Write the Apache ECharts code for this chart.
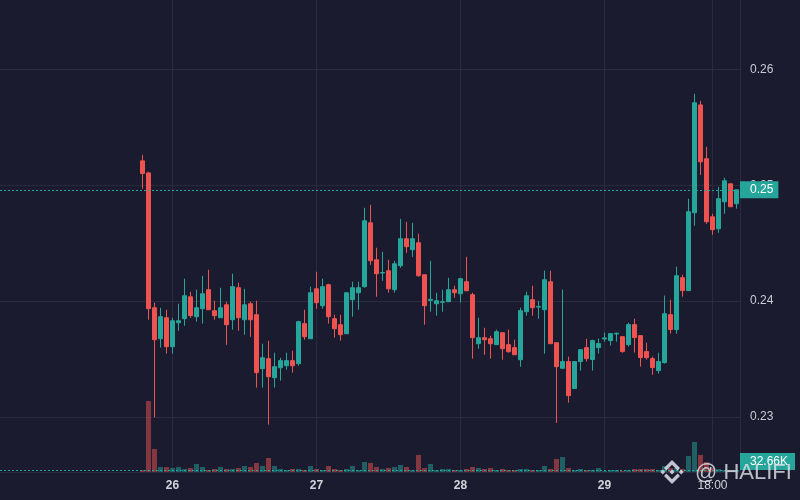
<!DOCTYPE html>
<html><head><meta charset="utf-8">
<script src="https://cdn.jsdelivr.net/npm/echarts@6/dist/echarts.min.js"></script>
<style>html,body{margin:0;padding:0;background:#1a1b2e}#c{width:800px;height:500px}</style>
</head><body><div id="c"></div>
<script>
// hourly candles, first candle = 25th 19:00 (hours counted from 25th 00:00)
const startHour = 19;
const opens = [0.25211,0.25107,0.23943,0.23676,0.23857,0.23607,0.23814,0.23849,0.24038,0.23866,
0.23935,0.24099,0.23918,0.23857,0.23969,0.23840,0.24116,0.23840,0.23978,0.23883,
0.23418,0.23504,0.23340,0.23426,0.23443,0.23487,0.23461,0.23806,0.23676,0.24107,
0.23961,0.24142,0.23849,0.23797,0.23719,0.24013,0.24073,0.24125,0.24676,0.24357,
0.24243,0.24263,0.24099,0.24306,0.24539,0.24444,0.24504,0.24228,0.24007,0.23978,
0.23990,0.23995,0.24099,0.24064,0.24168,0.24056,0.23633,0.23685,0.23676,0.23625,
0.23728,0.23625,0.23599,0.23495,0.23909,0.24013,0.23949,0.23926,0.24168,0.23642,
0.23421,0.23479,0.23246,0.23479,0.23599,0.23496,0.23599,0.23674,0.23660,0.23717,
0.23694,0.23625,0.23798,0.23703,0.23565,0.23504,0.23401,0.23470,0.23884,0.23755,
0.24203,0.24091,0.24763,0.25694,0.25229,0.24728,0.24625,0.24858,0.25013,0.24841];
const closes = [0.25102,0.23935,0.23668,0.23866,0.23607,0.23831,0.23831,0.24047,0.23875,0.23943,
0.24064,0.23926,0.23875,0.23943,0.23797,0.24125,0.23857,0.23969,0.23840,0.23383,
0.23512,0.23349,0.23435,0.23487,0.23487,0.23443,0.23823,0.23693,0.24073,0.23987,
0.24125,0.23866,0.23763,0.23711,0.24073,0.24116,0.24116,0.24694,0.24349,0.24237,
0.24248,0.24107,0.24323,0.24539,0.24470,0.24539,0.24220,0.23961,0.24016,0.24004,
0.23995,0.24099,0.24073,0.24194,0.24090,0.23685,0.23685,0.23668,0.23633,0.23737,
0.23590,0.23564,0.23538,0.23918,0.24047,0.23944,0.23955,0.24185,0.23633,0.23435,
0.23479,0.23185,0.23479,0.23582,0.23504,0.23660,0.23634,0.23683,0.23720,0.23723,
0.23565,0.23798,0.23686,0.23513,0.23513,0.23427,0.23479,0.23892,0.23755,0.24220,
0.24091,0.24772,0.25712,0.25203,0.24685,0.24617,0.24884,0.25039,0.24815,0.24961];
const lows = [0.24970,0.23840,0.22998,0.23599,0.23547,0.23547,0.23745,0.23788,0.23857,0.23823,
0.23806,0.23926,0.23840,0.23857,0.23624,0.23754,0.23745,0.23711,0.23693,0.23254,
0.23254,0.22935,0.23254,0.23314,0.23409,0.23383,0.23443,0.23668,0.23676,0.23935,
0.23935,0.23806,0.23685,0.23659,0.23719,0.23866,0.23926,0.24116,0.24314,0.24038,
0.24176,0.24073,0.24073,0.24288,0.24418,0.24383,0.24211,0.23797,0.23909,0.23875,
0.23909,0.23995,0.24030,0.23987,0.24090,0.23504,0.23590,0.23538,0.23504,0.23625,
0.23495,0.23556,0.23538,0.23435,0.23875,0.23875,0.23849,0.23547,0.23633,0.22950,
0.23421,0.23125,0.23246,0.23401,0.23479,0.23401,0.23548,0.23651,0.23617,0.23651,
0.23556,0.23608,0.23556,0.23436,0.23496,0.23366,0.23375,0.23462,0.23720,0.23720,
0.24039,0.24091,0.24651,0.25090,0.24668,0.24573,0.24590,0.24754,0.24815,0.24798];
const highs = [0.25263,0.25116,0.23987,0.23943,0.23926,0.23857,0.23978,0.24194,0.24081,0.24099,
0.24219,0.24271,0.24004,0.24116,0.23995,0.24237,0.24159,0.24107,0.23995,0.24004,
0.23633,0.23659,0.23556,0.23512,0.23556,0.23573,0.23831,0.23926,0.24125,0.24254,
0.24194,0.24150,0.23883,0.23883,0.24073,0.24168,0.24168,0.24806,0.24832,0.24461,
0.24426,0.24357,0.24349,0.24711,0.24685,0.24676,0.24582,0.24228,0.24349,0.24073,
0.24099,0.24202,0.24133,0.24202,0.24383,0.24073,0.23857,0.23771,0.23702,0.23754,
0.23728,0.23754,0.23668,0.23944,0.24082,0.24133,0.24004,0.24263,0.24263,0.23642,
0.24099,0.23522,0.23479,0.23582,0.23677,0.23668,0.23677,0.23729,0.23720,0.23729,
0.23694,0.23815,0.23849,0.23703,0.23642,0.23522,0.23556,0.24048,0.24013,0.24298,
0.24229,0.24884,0.25789,0.25728,0.25332,0.24754,0.24987,0.25065,0.25013,0.24961];
const volumes = [33000,1159000,376000,82000,80000,65000,81000,49000,66000,131000,
82000,33000,49000,82000,49000,50000,65000,98000,82000,147000,
98000,229000,98000,49000,33000,49000,50000,33000,98000,49000,
33000,98000,49000,33000,49000,98000,33000,163000,147000,82000,
49000,65000,82000,114000,82000,33000,278000,65000,131000,33000,
49000,49000,33000,33000,49000,82000,65000,49000,65000,33000,
49000,33000,33000,49000,49000,33000,33000,98000,49000,212000,
245000,65000,33000,49000,33000,33000,65000,16000,33000,33000,
16000,33000,49000,49000,49000,49000,33000,98000,65000,65000,
49000,261000,490000,278000,163000,65000,49000,33000,33000,32660];
const priceTicks = [0.23, 0.24, 0.25, 0.26];
const timeTicks = [24, 48, 72, 96, 114];
const timeTickLabels = ['26', '27', '28', '29', '18:00'];

const up = '#26a69a', down = '#ef5350';
const gridColor = '#2a2b3e';
const hours = opens.map((_, i) => startHour + i);
const candleData = opens.map((o, i) => [hours[i], o, closes[i], lows[i], highs[i]]);
const volData = volumes.map((v, i) => ({
  value: [hours[i], v],
  itemStyle: { color: closes[i] >= opens[i] ? 'rgba(38,166,154,0.5)' : 'rgba(239,83,80,0.5)' }
}));
const lastClose = closes[closes.length - 1];
const lastVol = volumes[volumes.length - 1];
const lastColor = closes[closes.length - 1] >= opens[opens.length - 1] ? up : down;

const xMin = -4.75, xMax = 118.5833;
const chart = echarts.init(document.getElementById('c'));
chart.setOption({
  backgroundColor: '#1a1b2e',
  animation: false,
  textStyle: { fontFamily: 'Arial, Liberation Sans, sans-serif' },
  grid: [
    { left: 0, right: 60, top: 0, bottom: 28 },
    { left: 0, right: 60, top: 372, bottom: 28 }
  ],
  xAxis: [
    {
      type: 'value', gridIndex: 0, min: xMin, max: xMax,
      axisLine: { show: true, onZero: false, lineStyle: { color: gridColor } },
      axisTick: { show: false, customValues: timeTicks },
      axisLabel: {
        customValues: timeTicks, margin: 8,
        formatter: function (v) {
          let k = 0;
          for (let j = 0; j < timeTicks.length; j++) if (Math.abs(timeTicks[j] - v) < 0.01) k = j;
          const t = timeTickLabels[k];
          return t.indexOf(':') >= 0 ? '{n|' + t + '}' : '{b|' + t + '}';
        },
        rich: {
          b: { fontWeight: 'bold', fontSize: 12, color: '#d1d4dc', fontFamily: 'Arial, Liberation Sans, sans-serif' },
          n: { fontSize: 12, color: '#d1d4dc', fontFamily: 'Arial, Liberation Sans, sans-serif' }
        }
      },
      splitLine: { show: true, lineStyle: { color: gridColor, width: 1 } }
    },
    { type: 'value', gridIndex: 1, min: xMin, max: xMax, show: false, splitLine: { show: false } }
  ],
  yAxis: [
    {
      type: 'value', gridIndex: 0, position: 'right', min: 0.22526, max: 0.26599, scale: true,
      axisLine: { show: true, onZero: false, lineStyle: { color: gridColor } },
      axisTick: { show: false, customValues: priceTicks },
      axisLabel: { customValues: priceTicks, formatter: v => v.toFixed(2), color: '#c9ccd4', fontSize: 12, margin: 10 },
      splitLine: { show: true, lineStyle: { color: gridColor, width: 1 } }
    },
    { type: 'value', gridIndex: 1, min: 0, max: 1633000, show: false, axisLine: { onZero: false }, splitLine: { show: false } }
  ],
  series: [
    {
      type: 'bar', xAxisIndex: 1, yAxisIndex: 1, data: volData, barWidth: 5, z: 1,
      markLine: {
        symbol: 'none', silent: true, animation: false, precision: 2,
        data: [{ yAxis: lastVol }],
        lineStyle: { color: up, type: [2, 2], width: 1 },
        label: {
          position: 'end', distance: 0, formatter: p => (p.value / 1000).toFixed(2) + 'K',
          color: '#ffffff', backgroundColor: up, padding: [2, 7, 1, 10], lineHeight: 14,
          fontSize: 12, verticalAlign: 'bottom'
        }
      }
    },
    {
      type: 'candlestick', xAxisIndex: 0, yAxisIndex: 0, data: candleData, barWidth: 4, z: 3,
      itemStyle: { color: up, color0: down, borderColor: up, borderColor0: down, borderWidth: 1 },
      markLine: {
        symbol: 'none', silent: true, animation: false, precision: 6,
        data: [{ yAxis: lastClose }],
        lineStyle: { color: lastColor, type: [2, 2], width: 1, opacity: 1 },
        label: {
          position: 'end', distance: 0, formatter: p => Number(p.value).toFixed(2),
          color: '#ffffff', backgroundColor: lastColor, padding: [2, 5, 1, 10], lineHeight: 14, fontSize: 12
        }
      }
    }
  ],
  graphic: [
    { type: 'polygon', z: 100, shape: { points: [[672,460],[680,468],[677.6,470.4],[672,464.8],[666.4,470.4],[664,468]] }, style: { fill: 'rgba(226,226,236,0.85)' } },
    { type: 'polygon', z: 100, shape: { points: [[672,484],[680,476],[677.6,473.6],[672,479.2],[666.4,473.6],[664,476]] }, style: { fill: 'rgba(226,226,236,0.85)' } },
    { type: 'polygon', z: 100, shape: { points: [[662.8,469.6],[665.2,472],[662.8,474.4],[660.4,472]] }, style: { fill: 'rgba(226,226,236,0.85)' } },
    { type: 'polygon', z: 100, shape: { points: [[681.2,469.6],[683.6,472],[681.2,474.4],[678.8,472]] }, style: { fill: 'rgba(226,226,236,0.85)' } },
    { type: 'polygon', z: 100, shape: { points: [[672,469.4],[674.6,472],[672,474.6],[669.4,472]] }, style: { fill: 'rgba(226,226,236,0.85)' } },
    { type: 'text', z: 100, left: 695, top: 462, style: { text: '@ HALIFI', fontSize: 22, fontFamily: 'Arial, Liberation Sans, sans-serif', fill: 'rgba(222,224,232,0.82)' } }
  ]
});
</script></body></html>
